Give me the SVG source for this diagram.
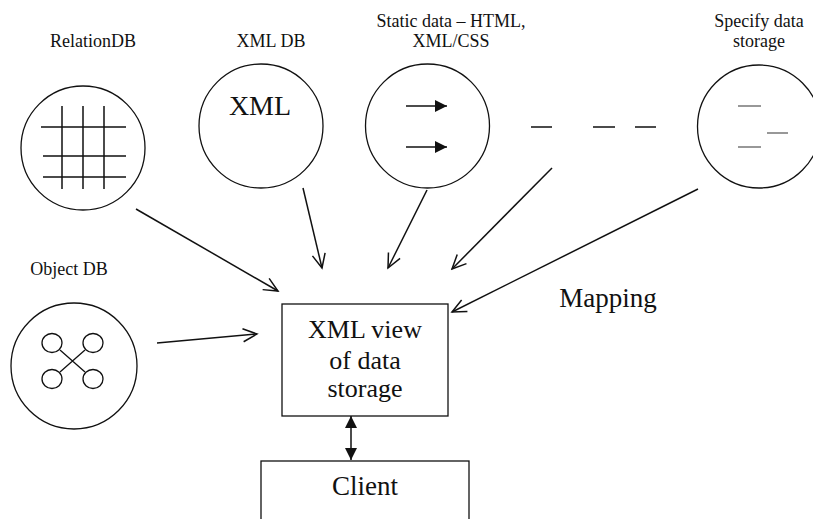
<svg xmlns="http://www.w3.org/2000/svg" width="813" height="519" viewBox="0 0 813 519">
  <style>
    text { font-family: "Liberation Serif", "Times New Roman", serif; fill: #111; text-anchor: middle; }
    .lbl { font-size: 18px; }
    .big { font-size: 27px; }
    .ring { fill: none; stroke: #111; stroke-width: 1.3; }
    .ink { fill: none; stroke: #111; stroke-width: 1.5; }
    .grey { fill: none; stroke: #777; stroke-width: 1.5; }
    .box { fill: #fff; stroke: #111; stroke-width: 1.3; }
    .conn { fill: none; stroke: #111; stroke-width: 1.5; }
  </style>
  <defs>
    <marker id="open" markerUnits="userSpaceOnUse" viewBox="-16 -8 18 16" refX="0" refY="0" markerWidth="18" markerHeight="16" orient="auto">
      <path d="M-14,-6.5 L0,0 L-14,6.5" fill="none" stroke="#111" stroke-width="1.5"/>
    </marker>
    <marker id="solid" markerUnits="userSpaceOnUse" viewBox="-13 -7 14 14" refX="0" refY="0" markerWidth="14" markerHeight="14" orient="auto-start-reverse">
      <path d="M-12,-6 L0,0 L-12,6 Z" fill="#111"/>
    </marker>
  </defs>

  <!-- Relational database -->
  <g id="relationdb">
    <text class="lbl" x="93" y="47">RelationDB</text>
    <circle class="ring" cx="83" cy="148" r="62"/>
    <path class="ink" d="M62,106 V189 M83,106 V189 M104,106 V189 M41,127 H126 M43,156 H126 M43,177 H126"/>
  </g>

  <!-- XML database -->
  <g id="xmldb">
    <text class="lbl" x="271" y="47">XML DB</text>
    <circle class="ring" cx="261" cy="126" r="62"/>
    <text class="big" x="260" y="115" style="font-size:28px">XML</text>
  </g>

  <!-- Static data -->
  <g id="staticdata">
    <text class="lbl" x="451" y="27">Static data – HTML,</text>
    <text class="lbl" x="451" y="47">XML/CSS</text>
    <circle class="ring" cx="427.5" cy="126" r="62"/>
    <path class="ink" d="M406,106 H447" marker-end="url(#solid)"/>
    <path class="ink" d="M406,147 H447" marker-end="url(#solid)"/>
  </g>

  <!-- Further sources -->
  <g id="more">
    <path class="ink" d="M531,127 H552 M593,127 H615 M635,127 H656"/>
  </g>

  <!-- Specified data storage -->
  <g id="specify">
    <text class="lbl" x="759" y="27">Specify data</text>
    <text class="lbl" x="759" y="47">storage</text>
    <circle class="ring" cx="759" cy="126.5" r="61.5"/>
    <path class="grey" d="M738,106 H761 M767,133 H788 M738,147 H761"/>
  </g>

  <!-- Object database -->
  <g id="objectdb">
    <text class="lbl" x="69" y="275">Object DB</text>
    <circle class="ring" cx="74" cy="366" r="63"/>
    <g class="ring">
      <ellipse cx="52" cy="343" rx="10" ry="9.5"/>
      <ellipse cx="93" cy="343" rx="10" ry="9.5"/>
      <ellipse cx="52" cy="379" rx="10" ry="9.5"/>
      <ellipse cx="93" cy="379" rx="10" ry="9.5"/>
      <path d="M60,350 L85,372 M85,350 L60,372"/>
    </g>
  </g>

  <!-- XML view -->
  <g id="xmlview">
    <rect class="box" x="282" y="304" width="166" height="112"/>
    <text class="big" x="365" y="338" style="font-size:26px">XML view</text>
    <text class="big" x="365" y="369" style="font-size:26px">of data</text>
    <text class="big" x="365" y="397" style="font-size:26px">storage</text>
  </g>

  <!-- Client -->
  <g id="client">
    <rect class="box" x="261" y="461" width="208" height="70"/>
    <text class="big" x="365" y="495">Client</text>
  </g>

  <text class="big" x="608" y="307">Mapping</text>

  <!-- Connectors -->
  <g id="connectors">
    <path class="conn" d="M136,209 L278,291" marker-end="url(#open)"/>
    <path class="conn" d="M303,188 L322,268" marker-end="url(#open)"/>
    <path class="conn" d="M427,190 L388,268" marker-end="url(#open)"/>
    <path class="conn" d="M552,168 L452,269" marker-end="url(#open)"/>
    <path class="conn" d="M698,189 L452,312" marker-end="url(#open)"/>
    <path class="conn" d="M157,343 L257,334" marker-end="url(#open)"/>
    <path class="conn" d="M351,416 L351,460" marker-start="url(#solid)" marker-end="url(#solid)"/>
  </g>
</svg>
